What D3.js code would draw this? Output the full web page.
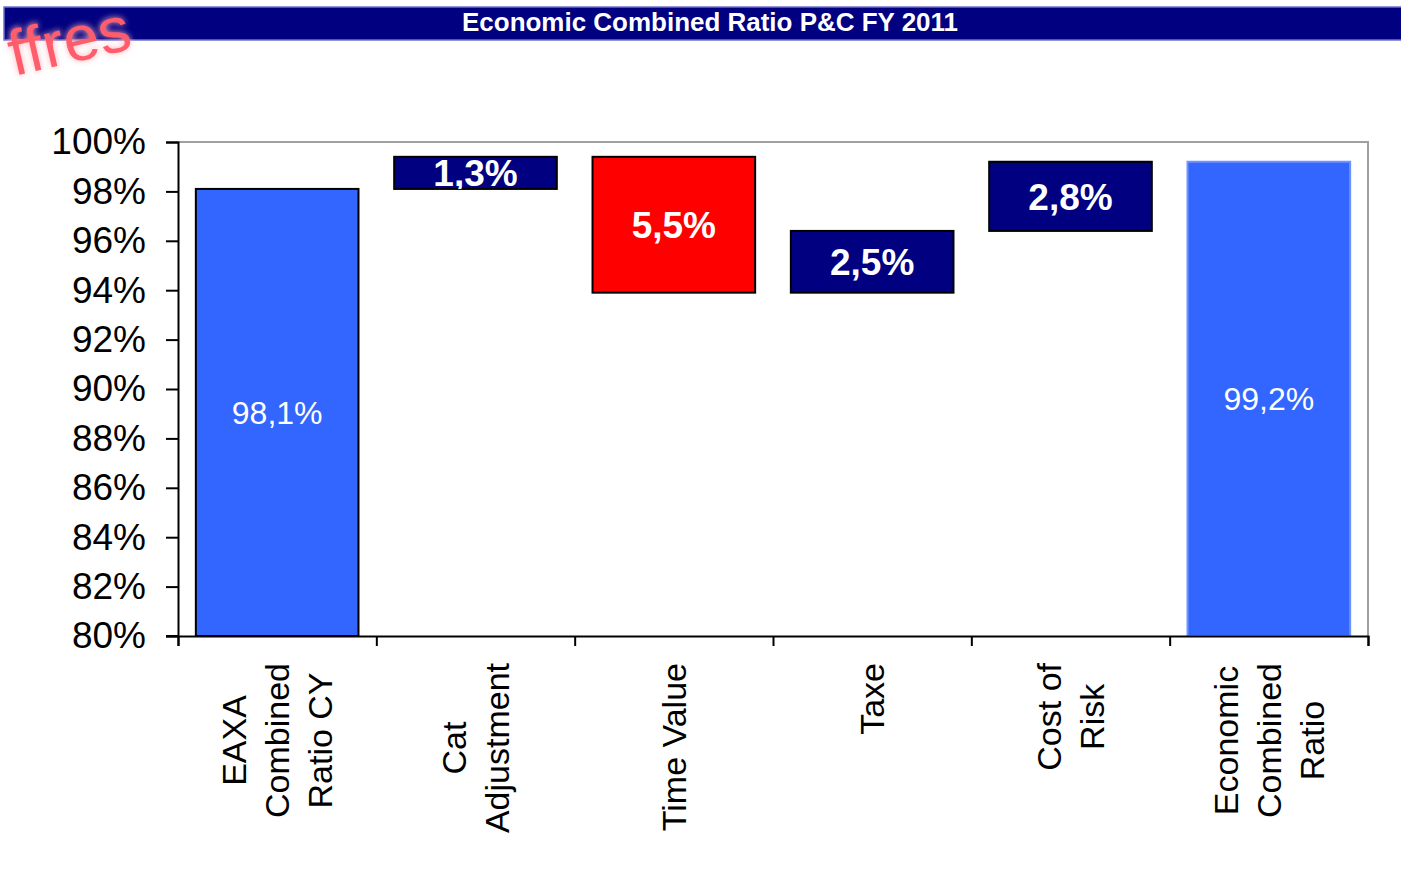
<!DOCTYPE html>
<html>
<head>
<meta charset="utf-8">
<style>
  body { margin: 0; background: #fff; }
  svg { display: block; }
</style>
</head>
<body>
<script src="https://d3js.org/d3.v7.min.js"></script>
<script>
// chart data
const title = "Economic Combined Ratio P&C FY 2011";
const categories = [
  ["EAXA", "Combined", "Ratio CY"],
  ["Cat", "Adjustment"],
  ["Time Value"],
  ["Taxe"],
  ["Cost of", "Risk"],
  ["Economic", "Combined", "Ratio"]
];
const values = [98.1, 1.3, -5.5, 2.5, 2.8, 99.2];
const kinds = ["total", "step", "step", "step", "step", "total"];
const yTicks = [80, 82, 84, 86, 88, 90, 92, 94, 96, 98, 100];

const W = 1401, H = 886;
const plotLeft = 178, plotRight = 1368, plotTop = 142, plotBottom = 636;

const svg = d3.select("body").append("svg").attr("width", W).attr("height", H);

// waterfall: build floating ranges from the values
let running = 0;
const bars = values.map((v, i) => {
  let lo, hi;
  if (kinds[i] === "total") {
    lo = 80; hi = v; running = v;
  } else {
    lo = Math.min(running, running + v);
    hi = Math.max(running, running + v);
    running = +(running + v).toFixed(1);
  }
  return { i, v, lo, hi, kind: kinds[i] };
});

const x = d3.scaleBand().domain(d3.range(categories.length))
  .range([plotLeft, plotRight]).paddingInner(0.18).paddingOuter(0.09);
const y = d3.scaleLinear().domain([80, 100]).range([plotBottom, plotTop]);
const fmt = v => d3.format(".1f")(Math.abs(v)).replace(".", ",") + "%";

// title bar
svg.append("rect").attr("x", 4).attr("y", 7).attr("width", W).attr("height", 33)
  .attr("fill", "#000080").attr("stroke", "#7070c8").attr("stroke-width", 1.5);
svg.append("text").attr("x", 710).attr("y", 31).attr("text-anchor", "middle")
  .attr("fill", "#fff").attr("font-family", "Liberation Sans, Arial, sans-serif")
  .attr("font-weight", "bold").attr("font-size", 26)
  .attr("textLength", 496).attr("lengthAdjust", "spacingAndGlyphs")
  .text(title);

// frame (gray top and right)
svg.append("path")
  .attr("d", `M${plotLeft},${plotTop}H${plotRight}V${plotBottom}`)
  .attr("fill", "none").attr("stroke", "#a0a0a0").attr("stroke-width", 2);

// clip paths so the labels stay inside their boxes
const defs = svg.append("defs");
bars.forEach(b => {
  defs.append("clipPath").attr("id", "clip" + b.i)
    .append("rect").attr("x", x(b.i)).attr("y", y(b.hi))
    .attr("width", x.bandwidth()).attr("height", y(b.lo) - y(b.hi));
});

const colour = b => b.kind === "total" ? "#3366ff" : (b.v < 0 ? "#ff0000" : "#000080");

svg.selectAll("rect.bar").data(bars).enter().append("rect")
  .attr("class", "bar")
  .attr("x", b => x(b.i))
  .attr("y", b => y(b.hi))
  .attr("width", x.bandwidth())
  .attr("height", b => y(b.lo) - y(b.hi))
  .attr("fill", colour)
  .attr("stroke", (b, i) => i === bars.length - 1 ? "#6f93ff" : "#000")
  .attr("stroke-width", 2);

svg.selectAll("text.val").data(bars).enter().append("text")
  .attr("class", "val")
  .attr("clip-path", b => `url(#clip${b.i})`)
  .attr("x", b => x(b.i) + x.bandwidth() / 2)
  .attr("y", b => (y(b.lo) + y(b.hi)) / 2)
  .attr("dy", "0.36em")
  .attr("text-anchor", "middle")
  .attr("fill", "#fff")
  .attr("font-family", "Liberation Sans, Arial, sans-serif")
  .attr("font-weight", b => b.kind === "total" ? "normal" : "bold")
  .attr("font-size", b => b.kind === "total" ? 32 : 37)
  .text(b => fmt(b.v));

// y axis
const yAxis = svg.append("g").attr("transform", `translate(${plotLeft},0)`)
  .call(d3.axisLeft(y).tickValues(yTicks).tickSize(12).tickPadding(20)
    .tickFormat(d => d + "%"));
yAxis.select(".domain").attr("stroke", "#000").attr("stroke-width", 2);
yAxis.selectAll(".tick line").attr("stroke", "#000").attr("stroke-width", 2);
yAxis.selectAll(".tick text")
  .attr("font-family", "Liberation Sans, Arial, sans-serif")
  .attr("font-size", 37).attr("fill", "#000");

// x axis: ticks between categories
const xEdge = d3.scaleLinear().domain([0, categories.length]).range([plotLeft, plotRight]);
const xAxis = svg.append("g").attr("transform", `translate(0,${plotBottom})`)
  .call(d3.axisBottom(xEdge).ticks(categories.length).tickSize(10).tickFormat(""));
xAxis.select(".domain").attr("stroke", "#000").attr("stroke-width", 2);
xAxis.selectAll(".tick line").attr("stroke", "#000").attr("stroke-width", 2);
svg.append("line").attr("x1", plotLeft - 12).attr("x2", plotLeft)
  .attr("y1", plotBottom).attr("y2", plotBottom).attr("stroke", "#000").attr("stroke-width", 2);

// category labels, rotated, block top aligned under the axis
const lineGap = 43;
categories.forEach((lines, i) => {
  const g = svg.append("g")
    .attr("font-family", "Liberation Sans, Arial, sans-serif")
    .attr("font-size", 34).attr("fill", "#000");
  const texts = lines.map(l => g.append("text").attr("text-anchor", "middle").text(l));
  const maxLen = d3.max(texts, t => t.node().getComputedTextLength());
  const cx = x(i) + x.bandwidth() / 2;
  const cy = 663 + maxLen / 2;
  const n = lines.length;
  texts.forEach((t, k) => {
    const off = (k - (n - 1) / 2) * lineGap;
    t.attr("transform", `translate(${cx + off},${cy}) rotate(-90)`)
      .attr("dy", "0.36em");
  });
});

// pink watermark fragment at the top left
const wm = svg.append("g").attr("transform", "translate(14,76) rotate(-13)")
  .attr("font-family", "Liberation Sans, Arial, sans-serif").attr("font-size", 64);
defs.append("filter").attr("id", "glow").append("feGaussianBlur").attr("stdDeviation", 3);
wm.append("text").attr("fill", "#ffb0b8").attr("filter", "url(#glow)").text("ffres");
wm.append("text").attr("fill", "#ff5c6c").text("ffres");
</script>
</body>
</html>
